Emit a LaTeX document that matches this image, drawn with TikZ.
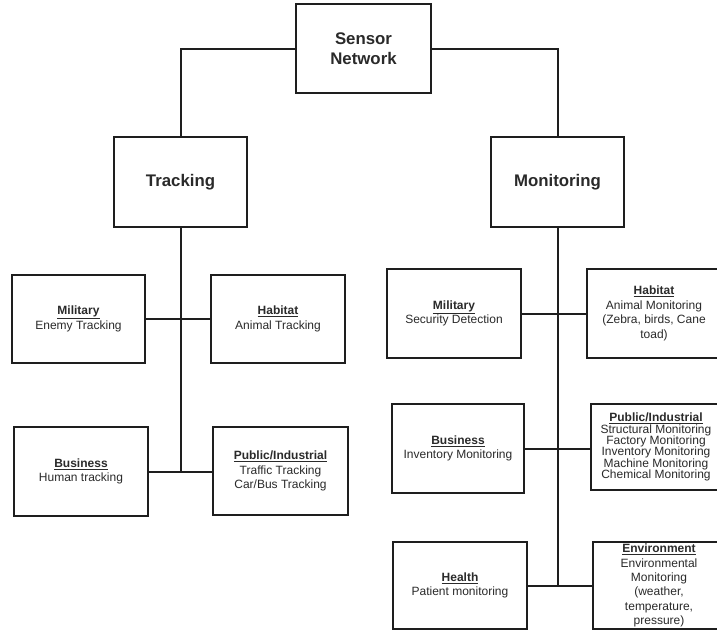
\documentclass[tikz,border=0pt]{standalone}
\usepackage{fontspec}
\setmainfont{Liberation Sans}
\definecolor{ink}{HTML}{1E1E1E}
\definecolor{txt}{HTML}{2A2A2A}
\newcommand{\hd}[1]{\underline{\textbf{#1}}}
\begin{document}
\begin{tikzpicture}[x=1pt,y=-1pt,
  box/.style={draw=ink,line width=2.2pt,fill=white,rectangle,inner sep=1pt,align=center,text=txt,font=\fontsize{12}{14.6}\selectfont},
  big/.style={box,font=\fontsize{16.8}{20}\selectfont\bfseries},
  link/.style={draw=ink,line width=2pt}]
\useasboundingbox (0,0) rectangle (717,632);
\clip (0,0) rectangle (717,632);
\fill[white] (0,0) rectangle (717,632);

\node[big,minimum width=135pt,minimum height=89pt] (sensor) at (363.5,48.5) {Sensor\\Network};
\node[big,minimum width=133pt,minimum height=90pt] (track) at (180.5,182) {Tracking};
\node[big,minimum width=133pt,minimum height=90pt] (mon) at (557.5,182) {Monitoring};

\node[box,minimum width=133pt,minimum height=88pt] (lmil) at (78.5,319) {\hd{Military}\\Enemy Tracking};
\node[box,minimum width=134pt,minimum height=88pt] (lhab) at (278,319) {\hd{Habitat}\\Animal Tracking};
\node[box,minimum width=134pt,minimum height=89pt] (lbus) at (81,471.5) {\hd{Business}\\Human tracking};
\node[box,minimum width=135pt,minimum height=88pt] (lpub) at (280.5,471) {\hd{Public/Industrial}\\Traffic Tracking\\Car/Bus Tracking};

\node[box,minimum width=134pt,minimum height=89pt] (rmil) at (454,313.5) {\hd{Military}\\Security Detection};
\node[box,minimum width=134pt,minimum height=89pt] (rhab) at (654,313.5) {\hd{Habitat}\\Animal Monitoring\\(Zebra, birds, Cane\\toad)};
\node[box,minimum width=132pt,minimum height=89pt] (rbus) at (458,448.5) {\hd{Business}\\Inventory Monitoring};
\node[box,minimum width=130pt,minimum height=86pt,font=\fontsize{12}{11.4}\selectfont] (rpub) at (656,447) {\hd{Public/Industrial}\\Structural Monitoring\\Factory Monitoring\\Inventory Monitoring\\Machine Monitoring\\Chemical Monitoring};
\node[box,minimum width=134pt,minimum height=87pt] (rhea) at (460,585.5) {\hd{Health}\\Patient monitoring};
\node[box,minimum width=132pt,minimum height=87pt,font=\fontsize{12}{14.4}\selectfont] (renv) at (659,585.5) {\hd{Environment}\\Environmental\\Monitoring\\(weather,\\temperature,\\pressure)};

\draw[link] (sensor.west) -| (track.north);
\draw[link] (sensor.east) -| (mon.north);

\draw[link] (track.south) -- (track.south |- lbus.east);
\draw[link] (lmil.east) -- (lhab.west);
\draw[link] (lbus.east) -- (lbus.east -| lpub.west);

\draw[link] (mon.south) -- (mon.south |- rhea.east);
\draw[link] (rmil.east) -- (rhab.west);
\draw[link] (rbus.east) -- (rbus.east -| rpub.west);
\draw[link] (rhea.east) -- (rhea.east -| renv.west);
\end{tikzpicture}
\end{document}
